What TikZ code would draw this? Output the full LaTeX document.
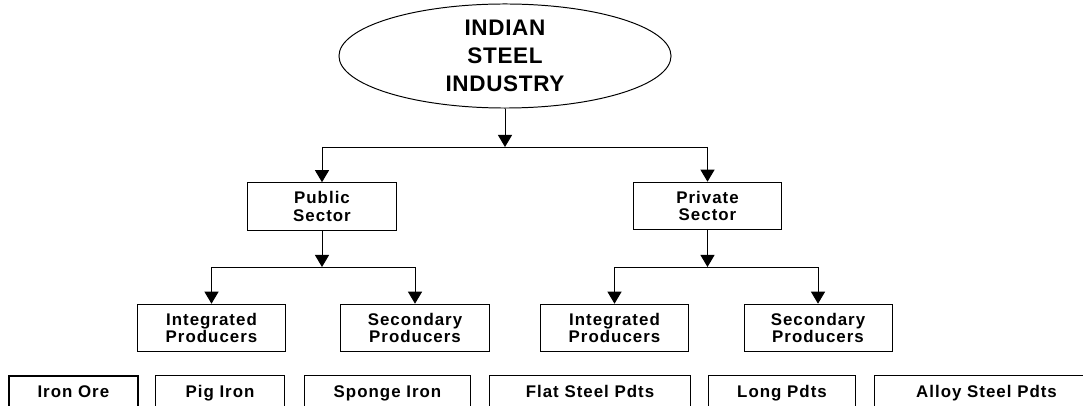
\documentclass[tikz,border=0pt]{standalone}
\usepackage{fontspec}
\setmainfont{Liberation Sans}
\newfontfamily\titlefont[LetterSpace=3]{Liberation Sans}
\newfontfamily\boxfont[LetterSpace=6]{Liberation Sans}
\usetikzlibrary{arrows.meta,
	shapes}

\begin{document}
\begin{tikzpicture}[x=0.025cm,y=-0.025cm,line width=0.7pt,>={Triangle[width=0.35cm,length=0.3cm]}]
    \tikzstyle{industry}=[draw,ellipse,minimum width=8.3cm,minimum height=2.6cm,inner sep=0pt,align=center,font=\titlefont\bfseries\fontsize{16}{20}\selectfont]
    \tikzstyle{sector}=[draw,rectangle,minimum width=3.7cm,minimum height=1.19cm,inner sep=0pt,align=center,font=\boxfont\bfseries\fontsize{12}{12.5}\selectfont]
    \tikzstyle{product}=[draw,rectangle,anchor=north west,inner xsep=0pt,inner ysep=3.6pt,text height=12pt,text depth=1.5cm,font=\boxfont\bfseries\fontsize{12}{14}\selectfont]
    \useasboundingbox (0,0) rectangle (1083,406);
    \clip (0,0) rectangle (1083,406);
    \node[industry] (ind) at (505,56) {INDIAN\\STEEL\\INDUSTRY};
    \node[sector] (pub) at (322,206.5) {Public\\Sector};
    \node[sector] (priv) at (707.5,206) {Private\\Sector};
    \node[sector] (intpub) at (211.5,328) {Integrated\\Producers};
    \node[sector] (secpub) at (415,328) {Secondary\\Producers};
    \node[sector] (intpriv) at (614.5,328) {Integrated\\Producers};
    \node[sector] (secpriv) at (818,328) {Secondary\\Producers};
    \coordinate (bus) at (505,147);
    \coordinate (pubbus) at (322,267);
    \coordinate (privbus) at (707.5,267);
    % top level
    \draw[->] (ind) -- (bus);
    \draw (pub |- bus) -- (priv |- bus);
    \draw[->] (pub |- bus) -- (pub);
    \draw[->] (priv |- bus) -- (priv);
    % producers
    \draw[->] (pub) -- (pubbus);
    \draw (intpub |- pubbus) -- (secpub |- pubbus);
    \draw[->] (intpub |- pubbus) -- (intpub);
    \draw[->] (secpub |- pubbus) -- (secpub);
    \draw[->] (priv) -- (privbus);
    \draw (intpriv |- privbus) -- (secpriv |- privbus);
    \draw[->] (intpriv |- privbus) -- (intpriv);
    \draw[->] (secpriv |- privbus) -- (secpriv);
    % products row
    \node[product,line width=1.2pt,minimum width=3.225cm] (ore) at (8,375) {Iron Ore};
    \node[product,minimum width=3.225cm] (pig) at (155,375) {Pig Iron};
    \node[product,minimum width=4.15cm] (sponge) at (304,375) {Sponge Iron};
    \node[product,minimum width=5.025cm] (flat) at (489,375) {Flat Steel Pdts};
    \node[product,minimum width=3.675cm] (long) at (708,375) {Long Pdts};
    \node[product,minimum width=5.6cm] (alloy) at (874,375) {Alloy Steel Pdts};
  \end{tikzpicture}
\end{document}
